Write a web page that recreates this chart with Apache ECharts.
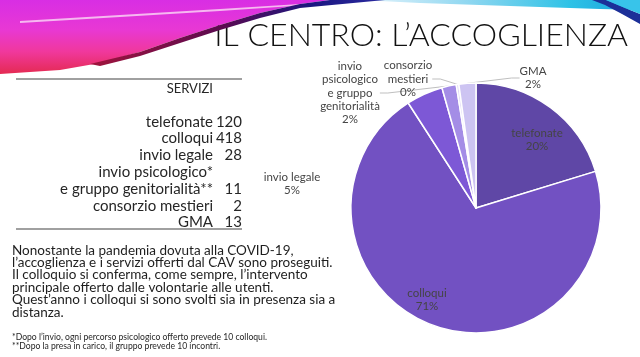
<!DOCTYPE html>
<html><head><meta charset="utf-8">
<script src="https://cdn.jsdelivr.net/npm/echarts@6/dist/echarts.min.js"></script>
<style>html,body{margin:0;padding:0;background:#fff}#c{width:640px;height:357px}</style>
</head><body><div id="c"></div>
<script>
// ---- data ----
const categories = ['telefonate','colloqui','invio legale','invio psicologico e gruppo genitorialità','consorzio mestieri','GMA'];
const pieLabels = ['telefonate','colloqui','invio legale','invio\npsicologico\ne gruppo\ngenitorialità','consorzio\nmestieri','GMA'];
const tableLabels = ['telefonate','colloqui','invio legale','invio psicologico*\ne gruppo genitorialità**','consorzio mestieri','GMA'];
const values = [120, 418, 28, 11, 2, 13];
const title = 'IL CENTRO: L\u2019ACCOGLIENZA';
const tableHeader = 'SERVIZI';
const bodyText = 'Nonostante la pandemia dovuta alla COVID-19,\nl\u2019accoglienza e i servizi offerti dal CAV sono proseguiti.\nIl colloquio si conferma, come sempre, l\u2019intervento\nprincipale offerto dalle volontarie alle utenti.\nQuest\u2019anno i colloqui si sono svolti sia in presenza sia a\ndistanza.';
const footnotes = '*Dopo l\u2019invio, ogni percorso psicologico offerto prevede 10 colloqui.\n**Dopo la presa in carico, il gruppo prevede 10 incontri.';

// ---- styles / layout ----
const colors = ['#5f47a6','#7251c2','#7d58d6','#a48de6','#e2dbf7','#cdc4f2'];
const FONT = 'Lato, "Open Sans", sans-serif';
const labelPos = [[537,140],[427,300],[292,184],[350,93],[408,79],[533,78]];
const showGuide = [false,false,false,true,true,true];

const chart = echarts.init(document.getElementById('c'), null, {renderer:'canvas'});

function lin(x2,y2,stops){return {type:'linear',x:0,y:0,x2:x2,y2:y2,global:false,colorStops:stops.map(s=>({offset:s[0],color:s[1]}))};}
const graphics = [];
// decorative swoosh (top-left)
const lowerEdge = [[330,0],[300,4],[260,13],[220,25],[180,38],[140,52],[100,63],[60,70],[0,74]];
graphics.push({type:'polygon', id:'sw1', z:1, shape:{points:[[0,0]].concat(lowerEdge)},
  style:{fill:lin(0,1,[[0,'#d82ee4'],[0.4,'#e838d4'],[0.7,'#f0389c'],[1,'#e42a52']])}});
graphics.push({type:'polygon', id:'sw1b', z:2, shape:{points:[[20,21],[120,15],[220,9],[300,4],[300,5.5],[220,11],[120,17],[20,23]]}, style:{fill:'#f6b8f0'}});
graphics.push({type:'polygon', id:'sw2', z:2, shape:{points:[[90,64],[140,52],[180,38],[220,25],[260,13],[300,4],[330,0],[385,0],[300,8],[260,18],[220,30],[180,43],[140,56],[100,66]]},
  style:{fill:lin(1,0,[[0,'#a0143c'],[0.45,'#5a0a50'],[0.75,'#1b1680'],[1,'#2a2aa0']])}});
// top-right cyan swoosh
graphics.push({type:'polygon', id:'sw3', z:1, shape:{points:[[360,0],[640,0],[640,10],[600,9],[540,7],[480,5],[420,3]]},
  style:{fill:lin(1,0,[[0,'#e6f4fc'],[0.4,'#8cd6f0'],[0.75,'#2ec2e6'],[1,'#1aa0dc']])}});
graphics.push({type:'polygon', id:'sw4', z:2, shape:{points:[[592,0],[606,0],[625,8],[640,14],[640,24],[622,14],[605,5]]}, style:{fill:'#1c2f98'}});
graphics.push({type:'polygon', id:'sw5', z:2, shape:{points:[[606,0],[640,0],[640,14],[625,8]]}, style:{fill:'#38c4ea'}});

// title
graphics.push({type:'text', x:628, y:36, style:{text:title, font:'300 32px '+FONT, fill:'#111', align:'right', verticalAlign:'middle'}});
// table
graphics.push({type:'line', shape:{x1:16,y1:79,x2:242,y2:79}, style:{stroke:'#808080',lineWidth:1.3}});
graphics.push({type:'line', shape:{x1:16,y1:229,x2:242,y2:229}, style:{stroke:'#808080',lineWidth:1.3}});
graphics.push({type:'text', x:213, y:89, style:{text:tableHeader, font:'13px '+FONT, fill:'#262626', align:'right', verticalAlign:'middle'}});
let rowY = 121.7; const rowStep = 16.8;
tableLabels.forEach((lab,i)=>{
  const lines = lab.split('\n');
  lines.forEach((ln,j)=>{
    graphics.push({type:'text', x:213, y:rowY, style:{text:ln, font:'15px '+FONT, fill:'#262626', align:'right', verticalAlign:'middle'}});
    if (j===lines.length-1) graphics.push({type:'text', x:242, y:rowY, style:{text:String(values[i]), font:'15px '+FONT, fill:'#262626', align:'right', verticalAlign:'middle'}});
    rowY += rowStep;
  });
});
// paragraph
graphics.push({type:'text', x:12, y:244, style:{text:bodyText, font:'13.5px '+FONT, lineHeight:12.45, fill:'#1e1e1e', align:'left', verticalAlign:'top'}});
graphics.push({type:'text', x:12, y:333, style:{text:footnotes, font:'8.6px '+FONT, lineHeight:8.6, fill:'#262626', align:'left', verticalAlign:'top'}});

chart.setOption({
  backgroundColor:'#ffffff',
  animation:false,
  graphic:{elements:graphics},
  series:[{
    type:'pie',
    center:[476,208],
    radius:125,
    startAngle:90,
    clockwise:true,
    percentPrecision:0,
    avoidLabelOverlap:false,
    itemStyle:{borderColor:'#ffffff',borderWidth:1.5},
    label:{show:true, position:'outside', color:'#454545', fontFamily:FONT, fontSize:11.5, lineHeight:13.3, align:'center',
      formatter:p=>pieLabels[p.dataIndex]+'\n'+p.percent+'%'},
    labelLine:{show:true, length:8, length2:8, lineStyle:{color:'#bfbfbf',width:1}},
    labelLayout:function(p){const q=labelPos[p.dataIndex];return {x:q[0],y:q[1],align:'center',verticalAlign:'middle'};},
    data:categories.map((c,i)=>({name:c,value:values[i],itemStyle:{color:colors[i]},labelLine:{show:showGuide[i]}}))
  }]
});
</script></body></html>
